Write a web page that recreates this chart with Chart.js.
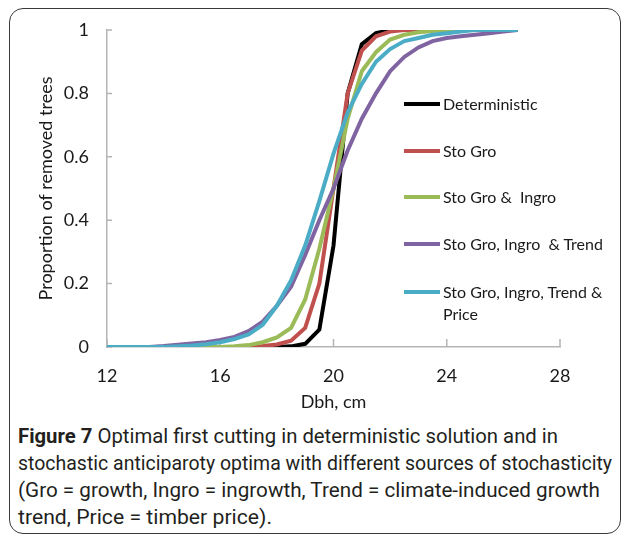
<!DOCTYPE html>
<html>
<head>
<meta charset="utf-8">
<script src="https://cdn.jsdelivr.net/npm/chart.js@4/dist/chart.umd.min.js"></script>
<style>
    body { margin: 0; background: #fff; }
    #frame {
        position: absolute; left: 9px; top: 8px; width: 610px; height: 524px;
        border: 1.5px solid #3a3a3a; border-radius: 14px;
    }
    #wrap { position: absolute; left: 0; top: 0; width: 627px; height: 420px; }
    #legend { position: absolute; left: 0; top: 0; font-family: Lato, sans-serif; font-size: 16px; color: #1a1a1a; }
    .leg-item { position: absolute; left: 404px; width: 200px; }
    .leg-line { position: absolute; left: 0; width: 36px; height: 4px; }
    .leg-text { position: absolute; left: 39px; width: 178px; line-height: 21.5px; white-space: pre-wrap; }
    #caption {
        position: absolute; left: 18px; top: 423px;
        font-family: "Liberation Sans Narrow", Roboto, sans-serif; font-size: 20px; color: #231f20;
    }
    #caption div { white-space: nowrap; width: max-content; line-height: 27px; transform-origin: left center; }
</style>
</head>
<body>
<div id="frame"></div>
<div id="wrap"><canvas id="chart"></canvas></div>
<div id="legend"></div>
<div id="caption">
    <div><b>Figure 7</b> Optimal first cutting in deterministic solution and in</div>
    <div>stochastic anticiparoty optima with different sources of stochasticity</div>
    <div>(Gro = growth, Ingro = ingrowth, Trend = climate-induced growth</div>
    <div>trend, Price = timber price).</div>
</div>
<script>
const dbh = [12, 12.5, 13, 13.5, 14, 14.5, 15, 15.5, 16, 16.5, 17, 17.5, 18, 18.5, 19,
    19.5, 20, 20.5, 21, 21.5, 22, 22.5, 23, 23.5, 24, 24.5, 25, 25.5, 26, 26.5];

const deterministic = [0, 0, 0, 0, 0, 0, 0, 0, 0, 0, 0, 0, 0, 0.002, 0.01,
    0.055, 0.32, 0.8, 0.955, 0.99, 1, 1, 1, 1, 1, 1, 1, 1, 1, 1];
const stoGro = [0, 0, 0, 0, 0, 0, 0, 0, 0, 0, 0, 0.003, 0.008, 0.02, 0.06,
    0.2, 0.5, 0.8, 0.935, 0.98, 0.995, 1, 1, 1, 1, 1, 1, 1, 1, 1];
const stoGroIngro = [0, 0, 0, 0, 0, 0, 0, 0, 0, 0.002, 0.006, 0.015, 0.03, 0.06, 0.15,
    0.31, 0.5, 0.72, 0.87, 0.93, 0.97, 0.985, 0.993, 0.997, 1, 1, 1, 1, 1, 1];
const stoGroIngroTrend = [0, 0, 0, 0, 0.003, 0.007, 0.011, 0.015, 0.022, 0.032, 0.05, 0.08, 0.13, 0.19, 0.29,
    0.4, 0.5, 0.62, 0.72, 0.8, 0.87, 0.915, 0.945, 0.965, 0.975, 0.98, 0.985, 0.99, 0.995, 1];
const stoAll = [0, 0, 0, 0, 0, 0.002, 0.005, 0.009, 0.015, 0.025, 0.04, 0.07, 0.13, 0.21, 0.32,
    0.46, 0.61, 0.74, 0.83, 0.9, 0.94, 0.965, 0.975, 0.985, 0.99, 0.995, 1, 1, 1, 1];

const seriesNames = ['Deterministic', 'Sto Gro', 'Sto Gro &  Ingro', 'Sto Gro, Ingro  & Trend', 'Sto Gro, Ingro, Trend & Price'];
const seriesValues = [deterministic, stoGro, stoGroIngro, stoGroIngroTrend, stoAll];
const seriesColors = ['#000000', '#c0504d', '#9bbb59', '#8064a2', '#4bacc6'];

const xTicks = [12, 16, 20, 24, 28];
const yTicks = [0, 0.2, 0.4, 0.6, 0.8, 1];

const axisColor = '#b5b5b5';
const textFont = 'Lato';

// excel style short ticks pointing into the plot
const insideTicks = {
    id: 'insideTicks',
    beforeDatasetsDraw(chart) {
        const ctx = chart.ctx;
        const x = chart.scales.x;
        const y = chart.scales.y;
        ctx.save();
        ctx.strokeStyle = axisColor;
        ctx.lineWidth = 1.5;
        ctx.beginPath();
        xTicks.forEach(function (v) {
            let px = x.getPixelForValue(v);
            ctx.moveTo(px, y.bottom);
            ctx.lineTo(px, y.bottom - 8);
        });
        yTicks.forEach(function (v) {
            let py = y.getPixelForValue(v);
            ctx.moveTo(x.left, py);
            ctx.lineTo(x.left + 5, py);
        });
        ctx.stroke();
        ctx.restore();
    }
};

let datasets = seriesNames.map(function (name, i) {
    return {
        label: name,
        data: dbh.map(function (d, j) { return {x: d, y: seriesValues[i][j]}; }),
        borderColor: seriesColors[i],
        backgroundColor: seriesColors[i],
        borderWidth: 4,
        pointRadius: 0,
        tension: 0,
        fill: false,
        order: seriesNames.length - i, // last series on top, like excel
    };
});

new Chart(document.getElementById('chart'), {
    type: 'line',
    data: {datasets: datasets},
    options: {
        responsive: true,
        maintainAspectRatio: false,
        animation: false,
        layout: {padding: {left: 20, top: 30, right: 67, bottom: 3}},
        plugins: {
            legend: {display: false},
            tooltip: {enabled: false},
        },
        scales: {
            x: {
                type: 'linear',
                min: 12,
                max: 28,
                grid: {display: false},
                border: {color: axisColor, width: 1.5},
                afterBuildTicks: function (scale) {
                    scale.ticks = xTicks.map(function (v) { return {value: v}; });
                },
                afterFit: function (scale) { scale.height = 70; },
                ticks: {color: '#1a1a1a', padding: 10, font: {family: textFont, size: 18}},
                title: {
                    display: true,
                    text: 'Dbh, cm',
                    color: '#1a1a1a',
                    font: {family: textFont, size: 18},
                    padding: {top: 0, bottom: 4},
                },
            },
            y: {
                min: 0,
                max: 1,
                grid: {display: false},
                border: {color: axisColor, width: 1.5},
                afterBuildTicks: function (scale) {
                    scale.ticks = yTicks.map(function (v) { return {value: v}; });
                },
                afterFit: function (scale) { scale.width = 87; },
                ticks: {
                    color: '#1a1a1a',
                    padding: 10,
                    font: {family: textFont, size: 18},
                    callback: function (value) {
                        return String(Number(value.toFixed(1)));
                    },
                },
                title: {
                    display: true,
                    text: 'Proportion of removed trees',
                    color: '#1a1a1a',
                    font: {family: textFont, size: 18},
                    padding: {top: 15, bottom: 0},
                },
            },
        },
    },
    plugins: [insideTicks],
});

// legend drawn as html next to the curves
const legendRows = [104, 151, 197, 244, 292];
const legend = document.getElementById('legend');
seriesNames.forEach(function (name, i) {
    let item = document.createElement('div');
    item.className = 'leg-item';
    item.style.top = (legendRows[i] - 10.75) + 'px';
    item.innerHTML = '<div class="leg-line" style="top:9px;background:' + seriesColors[i] + '"></div>' +
        '<div class="leg-text"></div>';
    item.querySelector('.leg-text').textContent = name;
    legend.appendChild(item);
});

// squeeze each caption line to the width it has in the printed figure
const capWidths = [540, 594, 582, 254];
document.querySelectorAll('#caption div').forEach(function (el, i) {
    let w = el.getBoundingClientRect().width;
    el.style.transform = 'scaleX(' + (capWidths[i] / w) + ')';
});
</script>
</body>
</html>
